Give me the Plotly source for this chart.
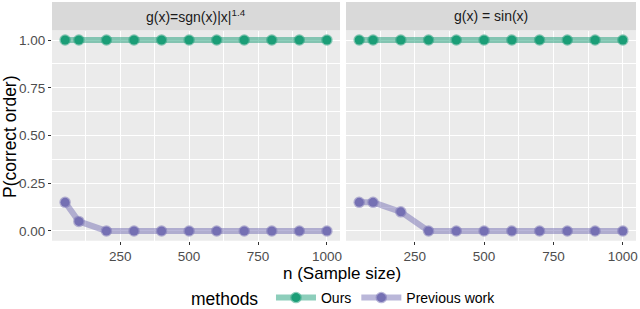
import plotly.graph_objects as go
from plotly.subplots import make_subplots

n_values = [50, 100, 200, 300, 400, 500, 600, 700, 800, 900, 1000]
panels = ["g(x)=sgn(x)|x|<sup>1.4</sup>", "g(x) = sin(x)"]
ours_left = [1, 1, 1, 1, 1, 1, 1, 1, 1, 1, 1]
prev_left = [0.15, 0.05, 0, 0, 0, 0, 0, 0, 0, 0, 0]
ours_right = [1, 1, 1, 1, 1, 1, 1, 1, 1, 1, 1]
prev_right = [0.15, 0.15, 0.10, 0, 0, 0, 0, 0, 0, 0, 0]
x_ticks = [250, 500, 750, 1000]
y_ticks = [0, 0.25, 0.5, 0.75, 1.0]
y_tick_labels = ["0.00", "0.25", "0.50", "0.75", "1.00"]

GREEN = "#1b9e77"
PURPLE = "#7570b3"
GREEN_A = "rgba(27,158,119,0.5)"
PURPLE_A = "rgba(117,112,179,0.5)"
FONT = "Liberation Sans, Arial"

W, H = 640, 309
fig = make_subplots(rows=1, cols=2, shared_yaxes=True)

def add(col, y, name, c, ca, show):
    fig.add_trace(go.Scatter(
        x=n_values, y=y, mode="lines+markers", name=name, legendgroup=name,
        showlegend=show,
        line=dict(color=ca, width=6),
        marker=dict(color=c, size=9, line=dict(color=ca, width=2.5)),
    ), row=1, col=col)

add(1, ours_left, "Ours", GREEN, GREEN_A, True)
add(1, prev_left, "Previous work", PURPLE, PURPLE_A, True)
add(2, ours_right, "Ours", GREEN, GREEN_A, False)
add(2, prev_right, "Previous work", PURPLE, PURPLE_A, False)

def px_x(p):
    return p / W

def px_y(p):
    return 1 - p / H

xdoms = [[px_x(52), px_x(340)], [px_x(346), px_x(636)]]
ydom = [px_y(240.5), px_y(30.5)]

axis_common = dict(
    showgrid=True, gridcolor="white", gridwidth=1.1,
    minor=dict(showgrid=True, gridcolor="white", gridwidth=0.5),
    zeroline=False, showline=False, automargin=False,
    ticks="outside", ticklen=3, tickcolor="#333333",
    tickfont=dict(family=FONT, size=13.5, color="#4D4D4D"),
)

for i, key in enumerate(["xaxis", "xaxis2"]):
    fig.layout[key].update(
        domain=xdoms[i], range=[2.5, 1047.5], tickvals=x_ticks,
        minor_tickvals=[125, 375, 625, 875], **axis_common)
for i, key in enumerate(["yaxis", "yaxis2"]):
    fig.layout[key].update(
        domain=ydom, range=[-0.05, 1.05], tickvals=y_ticks,
        minor_tickvals=[0.125, 0.375, 0.625, 0.875], **axis_common)
fig.layout.yaxis.update(ticktext=y_tick_labels)
fig.layout.yaxis2.update(showticklabels=False, ticks="")

shapes = []
annotations = []
for i in range(2):
    shapes.append(dict(type="rect", xref="paper", yref="paper",
                       x0=xdoms[i][0], x1=xdoms[i][1], y0=ydom[1], y1=px_y(2),
                       fillcolor="#D9D9D9", line=dict(width=0), layer="below"))
    shapes.append(dict(type="rect", xref="paper", yref="paper",
                       x0=xdoms[i][0], x1=xdoms[i][1], y0=ydom[0], y1=ydom[1],
                       fillcolor="#EBEBEB", line=dict(width=0), layer="below"))
    annotations.append(dict(text=panels[i], xref="paper", yref="paper",
                            x=(xdoms[i][0] + xdoms[i][1]) / 2, y=px_y(16),
                            xanchor="center", yanchor="middle", showarrow=False,
                            font=dict(family=FONT, size=14, color="#1A1A1A")))

annotations.append(dict(text="n (Sample size)", xref="paper", yref="paper",
                        x=px_x(342), y=px_y(273), xanchor="center", yanchor="middle",
                        showarrow=False, borderpad=0,
                        font=dict(family=FONT, size=17, color="black")))
annotations.append(dict(text="P(correct order)", xref="paper", yref="paper",
                        x=px_x(10), y=px_y(137), xanchor="center", yanchor="middle",
                        textangle=-90, showarrow=False,
                        font=dict(family=FONT, size=17.5, color="black")))

fig.update_layout(
    width=W, height=H, autosize=False,
    margin=dict(l=0, r=0, t=0, b=0, autoexpand=False),
    paper_bgcolor="white", plot_bgcolor="#EBEBEB",
    shapes=shapes, annotations=annotations,
    legend=dict(orientation="h", x=px_x(345), y=px_y(298.5), xanchor="center", yanchor="middle",
                xref="container", yref="container",
                title=dict(text="methods ", side="left",
                           font=dict(family=FONT, size=17.5, color="black")),
                font=dict(family=FONT, size=14, color="black"),
                bgcolor="rgba(0,0,0,0)", itemwidth=40),
    showlegend=True,
)

fig.write_html("out.html", config={"displayModeBar": False},
               post_script="document.body.style.margin='0';document.body.style.padding='0';")
